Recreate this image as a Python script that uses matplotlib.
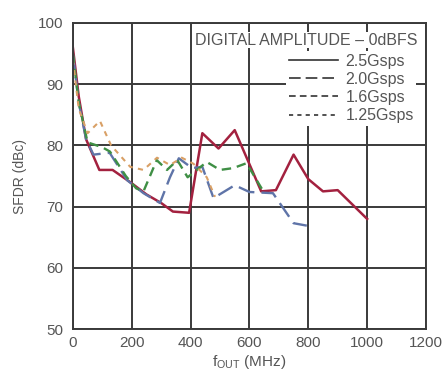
import matplotlib
matplotlib.use("Agg")
import matplotlib.pyplot as plt

# ---- data ----
f_25 = [0, 20, 45, 90, 135, 195, 250, 300, 340, 395, 440, 495, 550, 640, 690, 750, 800, 850, 900, 1000]
sfdr_25 = [96, 88, 81, 76, 76, 74, 72, 70.6, 69.2, 69, 82, 79.5, 82.5, 72.5, 72.7, 78.5, 74.5, 72.5, 72.7, 68]

f_20 = [0, 20, 45, 70, 125, 185, 240, 296, 330, 360, 405, 440, 478, 550, 600, 680, 750, 795]
sfdr_20 = [95, 87, 81, 78.5, 78.8, 74.3, 72.2, 70.6, 74.8, 77.9, 76.3, 76.5, 71.4, 73.5, 72.4, 72.2, 67.3, 66.9]

f_16 = [0, 20, 50, 100, 126, 180, 215, 240, 285, 320, 355, 390, 455, 500, 545, 590, 645]
sfdr_16 = [95, 87, 80.5, 79.7, 79, 75, 73, 72.5, 77.6, 76, 77.6, 74.8, 77.3, 76, 76.3, 77.1, 72.7]

f_125 = [0, 20, 50, 92, 130, 195, 240, 286, 330, 370, 410, 455, 483]
sfdr_125 = [94, 86, 82, 84, 80, 76.5, 76, 78, 76.8, 78, 77, 74.8, 71.6]

x_ticks = [0, 200, 400, 600, 800, 1000, 1200]
y_ticks = [50, 60, 70, 80, 90, 100]

plt.rcParams["font.family"] = ["Liberation Sans", "DejaVu Sans"]

fig = plt.figure(figsize=(4.47, 3.77), dpi=100)
ax = fig.add_axes([0.163, 0.127, 0.79, 0.812])

grid_c = "#3a3a3a"
txt_c = "#555555"

ax.plot(f_25, sfdr_25, color="#a3213f", lw=1.8, label="2.5Gsps")
ax.plot(f_20, sfdr_20, color="#5f74a8", lw=1.7, dashes=(7, 3), label="2.0Gsps")
ax.plot(f_16, sfdr_16, color="#3f8f45", lw=1.7, dashes=(4, 2.5), label="1.6Gsps")
ax.plot(f_125, sfdr_125, color="#d9a066", lw=1.5, dashes=(2.5, 2.5), label="1.25Gsps")

ax.set_xlim(0, 1200)
ax.set_ylim(50, 100)
ax.set_xticks(x_ticks)
ax.set_yticks(y_ticks)
ax.grid(True, color=grid_c, lw=1.4)
ax.set_axisbelow(True)
for s in ax.spines.values():
    s.set_color(grid_c)
    s.set_linewidth(1.4)
ax.tick_params(length=0, labelsize=11, labelcolor=txt_c)
ax.tick_params(axis="y", pad=7)
ax.tick_params(axis="x", pad=5)

ax.set_xlabel("f$_{\\mathregular{OUT}}$ (MHz)", fontsize=11, color=txt_c, labelpad=2)
ax.set_ylabel("SFDR (dBc)", fontsize=10, color=txt_c, labelpad=8)

ax.text(0.977, 0.944, "DIGITAL AMPLITUDE – 0dBFS", transform=ax.transAxes,
        ha="right", va="center", fontsize=11.5, color=txt_c,
        bbox=dict(facecolor="white", edgecolor="none", pad=0.5))

leg = ax.legend(loc="upper right", bbox_to_anchor=(0.972, 0.908), fontsize=11.5,
                frameon=True, framealpha=1, edgecolor="none", facecolor="white",
                handlelength=3.1, handletextpad=0.45, labelspacing=0.2,
                borderpad=0.15, borderaxespad=0, fancybox=False)
for h in leg.get_lines():
    h.set_color("#333333")
    h.set_linewidth(1.2)
for t in leg.get_texts():
    t.set_color(txt_c)

fig.savefig("out.png", dpi=100)
